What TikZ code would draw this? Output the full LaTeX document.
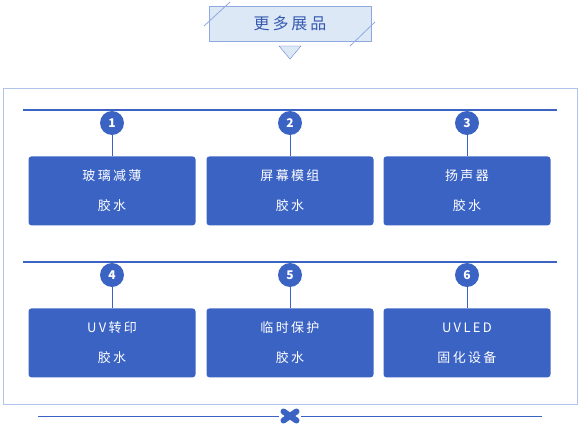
\documentclass[tikz,border=0pt]{standalone}
\usepackage{fontspec}
\setmainfont{Noto Sans CJK SC}
\newfontfamily\spaced[LetterSpace=18]{Noto Sans CJK SC}
\usetikzlibrary{positioning}
\definecolor{mainblue}{RGB}{59,99,196}
\definecolor{paleblue}{RGB}{221,232,247}
\definecolor{edgeblue}{RGB}{143,168,224}
\definecolor{framegray}{RGB}{176,196,236}
\tikzset{
    item/.style={
        fill=mainblue,
        rounded corners=3pt,
        align=center,
        minimum width=167pt,
        minimum height=69pt,
        inner sep=0pt,
        text=white,
        font=\spaced\fontsize{13}{30}\selectfont
    },
    badge/.style={
        circle,
        fill=mainblue,
        minimum size=24pt,
        inner sep=0pt,
        text=white,
        font=\bfseries\fontsize{12}{12}\selectfont
    },
    heading/.style={
        draw=edgeblue,
        fill=paleblue,
        minimum width=162pt,
        minimum height=35pt,
        text=mainblue!90!black,
        font=\spaced\fontsize{16}{16}\selectfont
    },
    link/.style={mainblue, line width=1pt},
    rail/.style={mainblue, line width=2pt},
    deco/.style={edgeblue, line width=0.8pt}
}

\begin{document}
\begin{tikzpicture}[x=1pt, y=-1pt, node distance=21pt]
\useasboundingbox (0,0) rectangle (582,428);

% heading
\node[heading] (title) at (290,23.5) {更多展品};
\draw[deco] (204,26) -- (230,2);
\draw[deco] (350,46) -- (375,22);
\draw[fill=paleblue, draw=mainblue!80] (279,46) -- (301,46) -- (290,59) -- cycle;

% frame
\draw[framegray] (3,88) rectangle (577,404);

% first row
\draw[rail] (23,110) -- (557,110);
\node[badge] (b1) at (112,123) {1};
\node[badge] (b2) at (290,123) {2};
\node[badge] (b3) at (467,123) {3};
\node[item, below=of b1] (g1) {玻璃减薄\\胶水};
\node[item, below=of b2] (g2) {屏幕模组\\胶水};
\node[item, below=of b3] (g3) {扬声器\\胶水};
\draw[link] (b1) -- (g1);
\draw[link] (b2) -- (g2);
\draw[link] (b3) -- (g3);

% second row
\draw[rail] (23,262) -- (557,262);
\node[badge] (b4) at (112,275) {4};
\node[badge] (b5) at (290,275) {5};
\node[badge] (b6) at (467,275) {6};
\node[item, below=of b4] (g4) {UV转印\\胶水};
\node[item, below=of b5] (g5) {临时保护\\胶水};
\node[item, below=of b6] (g6) {UVLED\\固化设备};
\draw[link] (b4) -- (g4);
\draw[link] (b5) -- (g5);
\draw[link] (b6) -- (g6);

% footer
\node[inner sep=0pt, minimum size=22pt] (knot) at (290,416) {};
\draw[mainblue, line width=1pt] (38,416) -- (knot.west);
\draw[mainblue, line width=1pt] (knot.east) -- (542,416);
\draw[mainblue, line width=6pt, line cap=round] (283.5,411.5) -- (296.5,420.5);
\draw[mainblue, line width=6pt, line cap=round] (283.5,420.5) -- (296.5,411.5);

\end{tikzpicture}
\end{document}
